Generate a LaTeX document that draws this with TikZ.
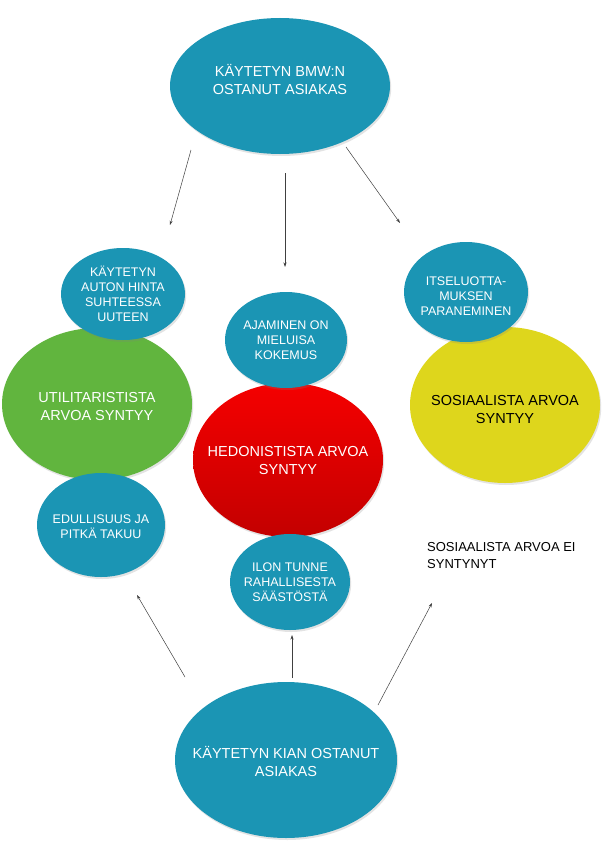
\documentclass[tikz,border=0pt]{standalone}
\usepackage{fontspec}
\setmainfont{Liberation Sans}
\usetikzlibrary{shapes.geometric,arrows.meta,shadows}
\definecolor{tealblue}{RGB}{27,149,180}
\definecolor{leafgreen}{RGB}{97,181,62}
\definecolor{sunyellow}{RGB}{222,214,28}
\definecolor{redtop}{RGB}{245,0,0}
\definecolor{redbot}{RGB}{195,0,0}
\begin{document}
\begin{tikzpicture}[x=1pt,y=-1pt,
  blob/.style={ellipse, inner sep=0pt, draw=none,
    drop shadow={shadow xshift=1.2pt, shadow yshift=-2pt, opacity=0.22}},
  tealblob/.style={blob, fill=tealblue},
  bigtxt/.style={text=white, align=center, font=\fontsize{14.5}{18}\selectfont},
  smalltxt/.style={text=white, align=center, font=\fontsize{12.5}{15}\selectfont},
  conn/.style={draw=black!75, line width=0.5pt, -{Stealth[length=4.5pt,width=3pt]}}]
\useasboundingbox (0,0) rectangle (604,843);
\fill[white] (0,0) rectangle (604,843);

% big ellipses
\node[tealblob, minimum width=220pt, minimum height=136pt] (top) at (280,86) {};
\node[blob, fill=leafgreen, minimum width=190pt, minimum height=152pt] (util) at (97,404) {};
\node[blob, top color=redtop, bottom color=redbot, minimum width=190pt, minimum height=154pt] (hed) at (288,460) {};
\node[blob, fill=sunyellow, minimum width=190pt, minimum height=156pt] (sos) at (505,405) {};
\node[tealblob, minimum width=222pt, minimum height=156pt] (bottom) at (286,760) {};

% small ellipses
\node[tealblob, minimum width=124pt, minimum height=92pt] (uTop) at (123,294) {};
\node[tealblob, minimum width=128pt, minimum height=104pt] (uBot) at (101,525) {};
\node[tealblob, minimum width=122pt, minimum height=96pt] (hTop) at (286,340) {};
\node[tealblob, minimum width=120pt, minimum height=96pt] (hBot) at (290,582) {};
\node[tealblob, minimum width=124pt, minimum height=100pt] (sTop) at (466,292) {};

% texts
\node[bigtxt] (topT) at (280,80) {KÄYTETYN BMW:N\\OSTANUT ASIAKAS};
\node[bigtxt] (utilT) at (97,407) {UTILITARISTISTA\\ARVOA SYNTYY};
\node[bigtxt] (hedT) at (288,461) {HEDONISTISTA ARVOA\\SYNTYY};
\node[bigtxt, text=black] (sosT) at (505,410) {SOSIAALISTA ARVOA\\SYNTYY};
\node[bigtxt] (bottomT) at (286,761) {KÄYTETYN KIAN OSTANUT\\ASIAKAS};
\node[smalltxt] (uTopT) at (123,294) {KÄYTETYN\\AUTON HINTA\\SUHTEESSA\\UUTEEN};
\node[smalltxt] (uBotT) at (101,527) {EDULLISUUS JA\\PITKÄ TAKUU};
\node[smalltxt] (hTopT) at (286,340) {AJAMINEN ON\\MIELUISA\\KOKEMUS};
\node[smalltxt] (hBotT) at (290,582) {ILON TUNNE\\RAHALLISESTA\\SÄÄSTÖSTÄ};
\node[smalltxt] (sTopT) at (466,296) {ITSELUOTTA-\\MUKSEN\\PARANEMINEN};
\node[anchor=west, align=left, inner sep=0pt, font=\fontsize{13}{17}\selectfont] (noteT) at (427,556) {SOSIAALISTA ARVOA EI\\SYNTYNYT};

% connector end points
\coordinate (a1s) at (191,150); \coordinate (a1e) at (170,225);
\coordinate (a2s) at (285,173); \coordinate (a2e) at (285,267);
\coordinate (a3s) at (346,147); \coordinate (a3e) at (400,223);
\coordinate (b1s) at (185,677); \coordinate (b1e) at (137,595);
\coordinate (b2s) at (292,678); \coordinate (b2e) at (292,635);
\coordinate (b3s) at (378,705); \coordinate (b3e) at (432,603);

\draw[conn] (a1s) -- (a1e);
\draw[conn] (a2s) -- (a2e);
\draw[conn] (a3s) -- (a3e);
\draw[conn] (b1s) -- (b1e);
\draw[conn] (b2s) -- (b2e);
\draw[conn] (b3s) -- (b3e);
\end{tikzpicture}
\end{document}
